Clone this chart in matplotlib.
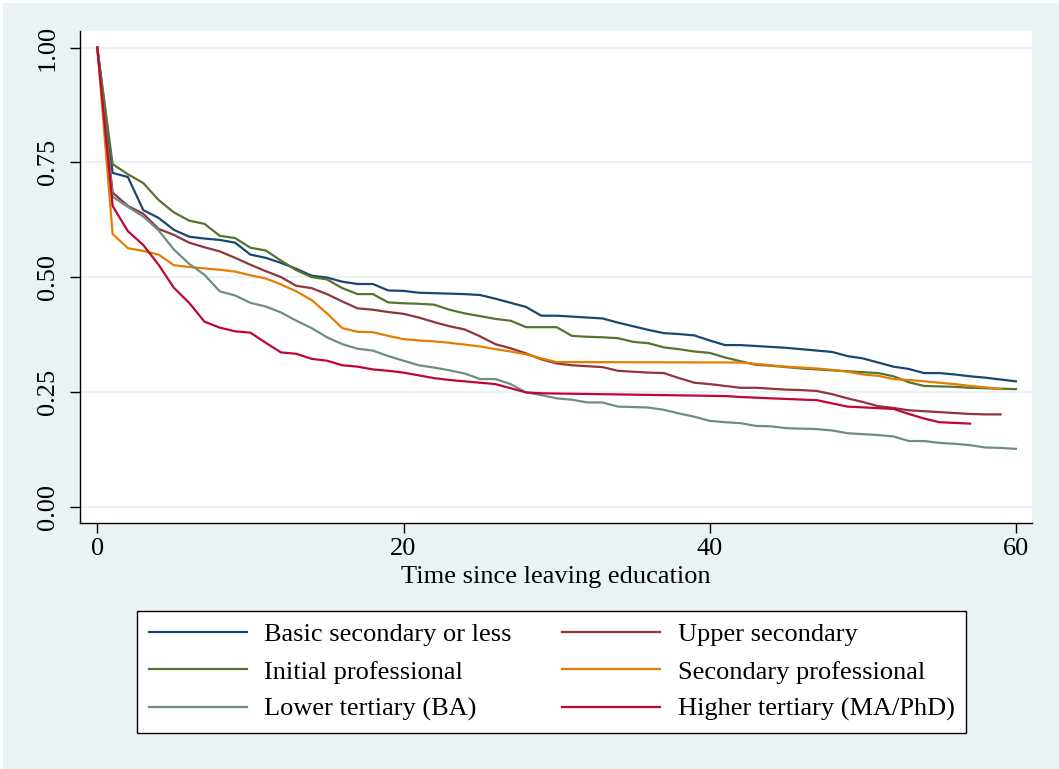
import numpy as np
import matplotlib
matplotlib.use("Agg")
import matplotlib.pyplot as plt
from matplotlib.patches import Rectangle

plt.rcParams['font.family'] = ['Liberation Serif', 'DejaVu Serif']

# survival estimates, one list per education group
t_basic = list(range(0, 61))
basic = [1.000, 0.727, 0.718, 0.646, 0.629, 0.603, 0.588, 0.584, 0.581, 0.575,
         0.549, 0.542, 0.531, 0.518, 0.503, 0.499, 0.490, 0.485, 0.485, 0.471,
         0.470, 0.466, 0.465, 0.464, 0.463, 0.461, 0.453, 0.444, 0.435, 0.416,
         0.416, 0.414, 0.412, 0.410, 0.401, 0.393, 0.385, 0.378, 0.376, 0.373,
         0.362, 0.352, 0.352, 0.350, 0.348, 0.346, 0.343, 0.340, 0.337, 0.328,
         0.323, 0.314, 0.305, 0.300, 0.291, 0.291, 0.288, 0.284, 0.281, 0.277,
         0.273]

t_initial = list(range(0, 61))
initial = [1.000, 0.746, 0.724, 0.705, 0.668, 0.641, 0.623, 0.616, 0.590, 0.585,
           0.564, 0.558, 0.536, 0.515, 0.500, 0.495, 0.476, 0.463, 0.463, 0.445,
           0.443, 0.442, 0.440, 0.429, 0.421, 0.415, 0.409, 0.405, 0.391, 0.391,
           0.391, 0.372, 0.370, 0.369, 0.367, 0.359, 0.356, 0.347, 0.343, 0.338,
           0.335, 0.325, 0.317, 0.309, 0.307, 0.304, 0.301, 0.299, 0.297, 0.295,
           0.293, 0.291, 0.284, 0.271, 0.263, 0.262, 0.261, 0.259, 0.258, 0.257,
           0.256]

t_lower = list(range(0, 61))
lower = [1.000, 0.675, 0.653, 0.632, 0.602, 0.560, 0.529, 0.505, 0.469, 0.460,
         0.444, 0.436, 0.423, 0.405, 0.389, 0.369, 0.354, 0.344, 0.340, 0.328,
         0.318, 0.308, 0.303, 0.297, 0.290, 0.278, 0.278, 0.267, 0.249, 0.243,
         0.236, 0.233, 0.227, 0.227, 0.218, 0.217, 0.216, 0.211, 0.203, 0.196,
         0.187, 0.184, 0.182, 0.176, 0.175, 0.171, 0.170, 0.169, 0.166, 0.160,
         0.158, 0.156, 0.153, 0.143, 0.143, 0.139, 0.137, 0.134, 0.129, 0.128,
         0.126]

t_upper = list(range(0, 60))
upper = [1.000, 0.684, 0.655, 0.638, 0.605, 0.592, 0.575, 0.565, 0.556, 0.542,
         0.527, 0.513, 0.500, 0.481, 0.476, 0.463, 0.447, 0.432, 0.429, 0.424,
         0.420, 0.412, 0.402, 0.393, 0.386, 0.371, 0.354, 0.345, 0.334, 0.321,
         0.312, 0.308, 0.306, 0.304, 0.296, 0.294, 0.292, 0.291, 0.280, 0.270,
         0.267, 0.263, 0.259, 0.259, 0.257, 0.255, 0.254, 0.252, 0.245, 0.236,
         0.228, 0.219, 0.215, 0.210, 0.208, 0.206, 0.204, 0.202, 0.201, 0.201]

t_secprof = list(range(0, 31)) + list(range(42, 60))
secprof = [1.000, 0.594, 0.563, 0.557, 0.549, 0.526, 0.522, 0.519, 0.516, 0.512,
           0.504, 0.497, 0.484, 0.469, 0.450, 0.421, 0.389, 0.381, 0.380, 0.372,
           0.365, 0.362, 0.360, 0.357, 0.353, 0.349, 0.343, 0.338, 0.332, 0.323,
           0.315,
           0.314, 0.311, 0.308, 0.305, 0.303, 0.301, 0.298, 0.294, 0.288, 0.285,
           0.278, 0.276, 0.273, 0.270, 0.267, 0.263, 0.260, 0.256]

t_higher = list(range(0, 30)) + [41, 42, 44, 47, 48, 49, 52, 53, 54, 55, 57]
higher = [1.000, 0.655, 0.600, 0.570, 0.527, 0.477, 0.444, 0.403, 0.390, 0.382,
          0.379, 0.357, 0.336, 0.333, 0.322, 0.318, 0.308, 0.305, 0.299, 0.296,
          0.292, 0.286, 0.280, 0.276, 0.273, 0.270, 0.267, 0.258, 0.249, 0.247,
          0.241, 0.239, 0.236, 0.232, 0.225, 0.218, 0.213, 0.202, 0.192, 0.184,
          0.181]

series = [
    ("Basic secondary or less", t_basic, basic, "#1A476F"),
    ("Upper secondary", t_upper, upper, "#90353B"),
    ("Initial professional", t_initial, initial, "#55752F"),
    ("Secondary professional", t_secprof, secprof, "#E37E00"),
    ("Lower tertiary (BA)", t_lower, lower, "#6E8E84"),
    ("Higher tertiary (MA/PhD)", t_higher, higher, "#C10534"),
]

W, H = 1059, 769
fig = plt.figure(figsize=(W / 100, H / 100), dpi=100, facecolor="white")
fig.patches.append(Rectangle((3 / W, 0), 1 - 3 / W, 1 - 3 / H, transform=fig.transFigure,
                             facecolor="#EAF2F3", edgecolor="none", zorder=-10))

ax = fig.add_axes([80 / W, 1 - 523 / H, (1032 - 80) / W, (523 - 31) / H])
ax.set_facecolor("white")

lines = {}
for name, t, s, c in series:
    ln, = ax.plot(t, s, color=c, lw=1.6, label=name)
    lines[name] = ln

ax.set_xlim(-1.13, 61.05)
ax.set_ylim(-0.0355, 1.036)
ax.set_xticks([0, 20, 40, 60])
ax.set_yticks([0, 0.25, 0.5, 0.75, 1.0])
ax.set_yticklabels(["0.00", "0.25", "0.50", "0.75", "1.00"], rotation=90, va="center")
ax.yaxis.grid(True, color="#EAF2F3", lw=1.6)
ax.set_axisbelow(True)
for sp in ["top", "right"]:
    ax.spines[sp].set_visible(False)
for sp in ["left", "bottom"]:
    ax.spines[sp].set_linewidth(1.0)
ax.tick_params(axis="both", length=7, width=1, labelsize=19, direction="out")
ax.tick_params(axis="y", pad=8)
ax.tick_params(axis="x", pad=4)
ax.set_xlabel("Time since leaving education", fontsize=19, labelpad=4)

# legend rows: Basic/Upper, Initial/Secondary prof, Lower/Higher tertiary
order = ["Basic secondary or less", "Initial professional", "Lower tertiary (BA)",
         "Upper secondary", "Secondary professional", "Higher tertiary (MA/PhD)"]
leg = fig.legend([lines[n] for n in order], order, ncol=2, loc="upper left",
                 bbox_to_anchor=(137 / W, 1 - 611 / H), borderaxespad=0,
                 fontsize=19, handlelength=3.7, handletextpad=0.68,
                 columnspacing=1.9, labelspacing=0.52, borderpad=0.45,
                 fancybox=False, framealpha=1, edgecolor="black")
leg.get_frame().set_linewidth(1.0)
for h in leg.legend_handles:
    h.set_linewidth(1.6)

fig.savefig("out.png", dpi=100, facecolor=fig.get_facecolor())
